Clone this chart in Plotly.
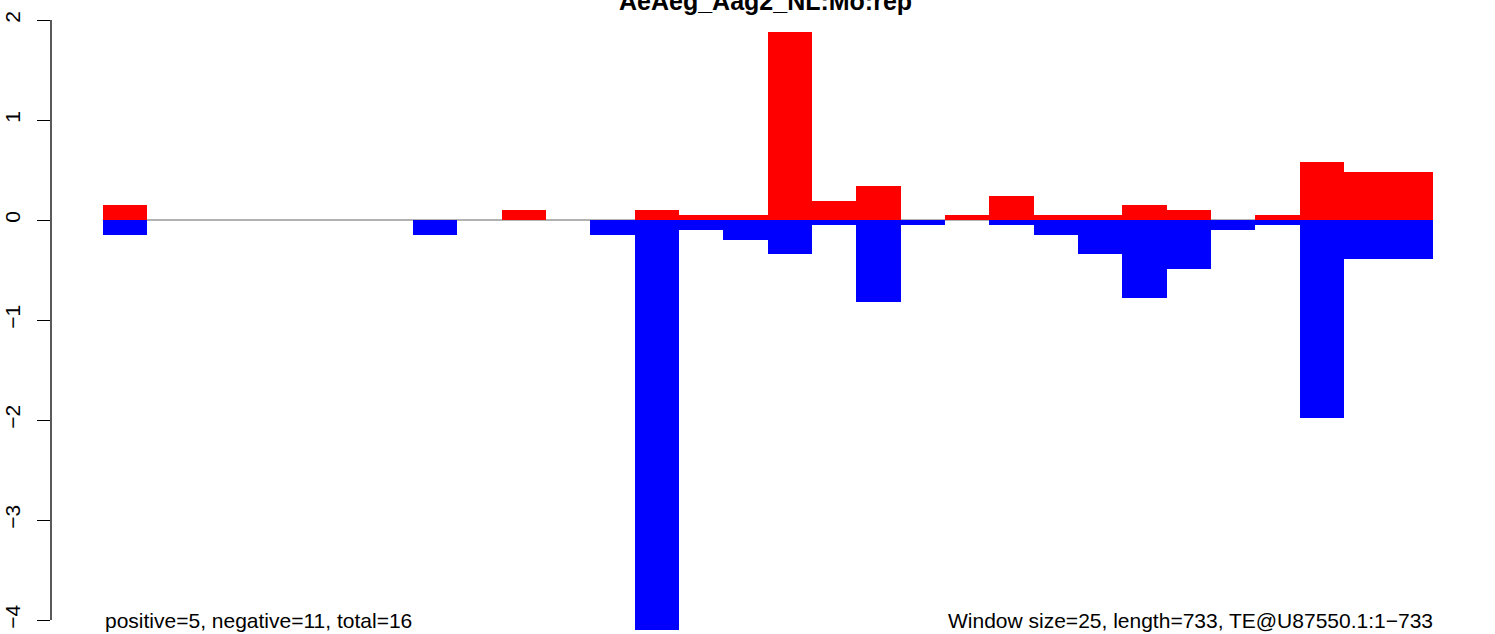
import plotly.graph_objects as go

# window index (0..29), each window spans [i, i+1]
windows = list(range(30))
positive = [0.15, 0, 0, 0, 0, 0, 0, 0, 0, 0.10,
            0, 0, 0.10, 0.05, 0.05, 1.88, 0.19, 0.34, 0, 0.05,
            0.24, 0.05, 0.05, 0.15, 0.10, 0, 0.05, 0.58, 0.48, 0.48]
negative = [-0.15, 0, 0, 0, 0, 0, 0, -0.15, 0, 0,
            0, -0.15, -4.10, -0.10, -0.20, -0.34, -0.05, -0.82, -0.05, 0,
            -0.05, -0.15, -0.34, -0.78, -0.49, -0.10, -0.05, -1.98, -0.39, -0.39]
yticks = [-4, -3, -2, -1, 0, 1, 2]
title = "AeAeg_Aag2_NL:Mo:rep"
left_note = "positive=5, negative=11, total=16"
right_note = "Window size=25, length=733, TE@U87550.1:1\u2212733"

FONT = "Liberation Sans, Arial, Helvetica, sans-serif"
xc = [w + 0.5 for w in windows]

fig = go.Figure()
fig.add_trace(go.Bar(x=xc, y=positive, width=1, marker=dict(color="#ff0000", line=dict(width=0)),
                     hoverinfo="y", showlegend=False))
fig.add_trace(go.Bar(x=xc, y=negative, width=1, marker=dict(color="#0000ff", line=dict(width=0)),
                     hoverinfo="y", showlegend=False))

n = len(windows)
fig.update_layout(
    width=1495, height=634, autosize=False,
    margin=dict(l=51, r=9, t=0, b=0, pad=0),
    plot_bgcolor="white", paper_bgcolor="white",
    barmode="overlay", bargap=0,
    font=dict(family=FONT, color="black"),
    xaxis=dict(range=[-1.166, 31.2], visible=False, showgrid=False, zeroline=False),
    yaxis=dict(range=[-4.14, 2.2], tickvals=yticks, ticks="outside", ticklen=13,
               tickwidth=1.3, tickcolor="black", showline=False, showgrid=False,
               zeroline=False, tickangle=-90, tickfont=dict(size=21, family=FONT, color="black"),
               ticklabelstandoff=9),
    shapes=[
        dict(type="line", xref="x", yref="y", x0=0, x1=n, y0=0, y1=0,
             line=dict(color="#999999", width=1.5), layer="below"),
        dict(type="line", xref="paper", yref="y", x0=0, x1=0, y0=min(yticks), y1=max(yticks),
             line=dict(color="black", width=1.3), layer="above"),
    ],
    annotations=[
        dict(text="<b>" + title + "</b>", xref="paper", yref="paper", x=0.5, y=1,
             xanchor="center", yanchor="bottom", yshift=-17, xshift=-3, showarrow=False,
             font=dict(size=25, family=FONT, color="black")),
        dict(text=left_note, xref="x", yref="paper", x=0, y=0, xanchor="left",
             yanchor="bottom", showarrow=False, font=dict(size=21, family=FONT, color="black")),
        dict(text=right_note, xref="x", yref="paper", x=n, y=0, xanchor="right",
             yanchor="bottom", xshift=2, showarrow=False, font=dict(size=21, family=FONT, color="black")),
    ],
)

fig.write_html("out.html", config={"displayModeBar": False},
               post_script="document.body.style.margin='0';document.body.style.overflow='hidden';")
